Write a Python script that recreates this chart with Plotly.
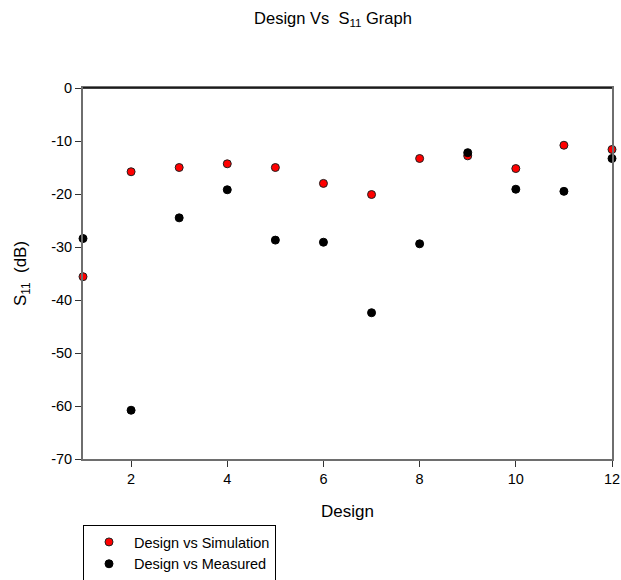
import plotly.graph_objects as go

designs = [1, 2, 3, 4, 5, 6, 7, 8, 9, 10, 11, 12]
sim_s11 = [-35.6, -15.8, -15.0, -14.3, -15.0, -18.0, -20.1, -13.3, -12.8, -15.2, -10.8, -11.6]
meas_s11 = [-28.4, -60.8, -24.5, -19.2, -28.7, -29.1, -42.4, -29.4, -12.2, -19.1, -19.5, -13.3]
x_ticks = [2, 4, 6, 8, 10, 12]
y_ticks = [0, -10, -20, -30, -40, -50, -60, -70]

FONT = "Liberation Sans, Arial, sans-serif"
W, H = 621, 580

fig = go.Figure()
fig.add_trace(go.Scatter(
    x=designs, y=sim_s11, mode="markers", name="Design vs Simulation",
    marker=dict(color="#ff0000", size=8, line=dict(color="#202020", width=1)),
    cliponaxis=False,
))
fig.add_trace(go.Scatter(
    x=designs, y=meas_s11, mode="markers", name="Design vs Measured",
    marker=dict(color="#000000", size=8, line=dict(color="#000000", width=1)),
    cliponaxis=False,
))

fig.update_layout(
    width=W, height=H,
    margin=dict(l=83, r=9, t=88, b=121, autoexpand=False),
    plot_bgcolor="white", paper_bgcolor="white",
    font=dict(family=FONT, color="#000000", size=14),
    title=dict(text="Design Vs  S<sub>11</sub> Graph", x=333 / W, xanchor="center",
               y=1 - 18 / H, yanchor="middle", font=dict(size=16.5, family=FONT)),
    showlegend=True,
    legend=dict(x=0, xanchor="left", y=-(525 - 459) / 371, yanchor="top",
                bordercolor="#000000", borderwidth=1, bgcolor="white",
                font=dict(size=14.5, family=FONT), tracegroupgap=0,
                itemwidth=40),
)
fig.update_xaxes(
    range=[1, 12], tickvals=x_ticks, ticktext=[str(v) for v in x_ticks],
    showgrid=False, zeroline=False,
    showline=True, linecolor="#6e6e6e", linewidth=2, mirror=True,
    ticks="outside", ticklen=6, tickcolor="#333333", tickwidth=1,
    tickfont=dict(size=14.5, color="#000000"),
    title=dict(text="Design", font=dict(size=17), standoff=19),
)
fig.update_yaxes(
    range=[-70, 0], tickvals=y_ticks, ticktext=[str(v) for v in y_ticks],
    showgrid=False, zeroline=False,
    showline=True, linecolor="#6e6e6e", linewidth=2, mirror=True,
    ticks="outside", ticklen=6, tickcolor="#333333", tickwidth=1,
    tickfont=dict(size=14.5, color="#000000"),
    title=dict(text="S<sub>11</sub>  (dB)", font=dict(size=17), standoff=20),
)
# top border in black, thin
fig.add_shape(type="line", xref="paper", yref="paper", x0=0, x1=1, y0=1, y1=1,
              line=dict(color="#000000", width=1.5))

fig.write_html(
    "out.html",
    config={"displayModeBar": False},
    post_script="document.body.style.margin='0';"
                "document.documentElement.style.overflow='hidden';",
)
